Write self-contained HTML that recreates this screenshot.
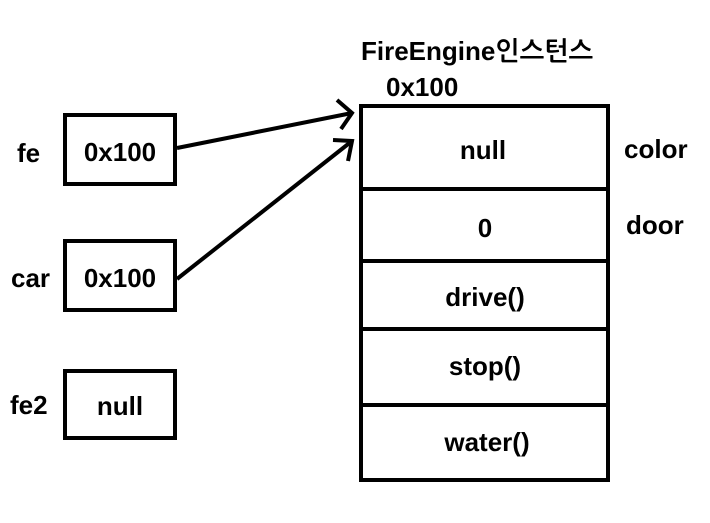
<!DOCTYPE html>
<html><head><style>
body{margin:0;background:#fff;}
svg text{font-family:"Liberation Sans","NanumGothic",sans-serif;font-weight:bold;font-size:26px;fill:#000;}
</style></head><body>
<svg width="710" height="518" xmlns="http://www.w3.org/2000/svg">
<g fill="none" stroke="#000" stroke-width="4">
<rect x="65" y="115" width="110" height="69"/>
<rect x="65" y="241" width="110" height="69"/>
<rect x="65" y="371" width="110" height="67"/>
<rect x="361" y="106" width="247" height="374"/>
<line x1="361" y1="189" x2="608" y2="189"/>
<line x1="361" y1="261" x2="608" y2="261"/>
<line x1="361" y1="329" x2="608" y2="329"/>
<line x1="361" y1="405" x2="608" y2="405"/>
<line x1="177" y1="148" x2="352" y2="113"/>
<polyline points="337,100 352,113 341,129"/>
<line x1="177" y1="279" x2="352" y2="141"/>
<polyline points="333,140 352,141 348,161"/>
</g>
<g text-anchor="middle">
<text x="120" y="161">0x100</text>
<text x="120" y="287">0x100</text>
<text x="120" y="415">null</text>
<text x="483" y="159">null</text>
<text x="485" y="237">0</text>
<text x="485" y="306">drive()</text>
<text x="485" y="375">stop()</text>
<text x="487" y="451">water()</text>
</g>
<text x="17" y="162">fe</text>
<text x="11" y="287">car</text>
<text x="10" y="414">fe2</text>
<text x="624" y="158">color</text>
<text x="626" y="234">door</text>
<text x="361" y="60">FireEngine인스턴스</text>
<text x="386" y="96">0x100</text>
</svg>
</body></html>
